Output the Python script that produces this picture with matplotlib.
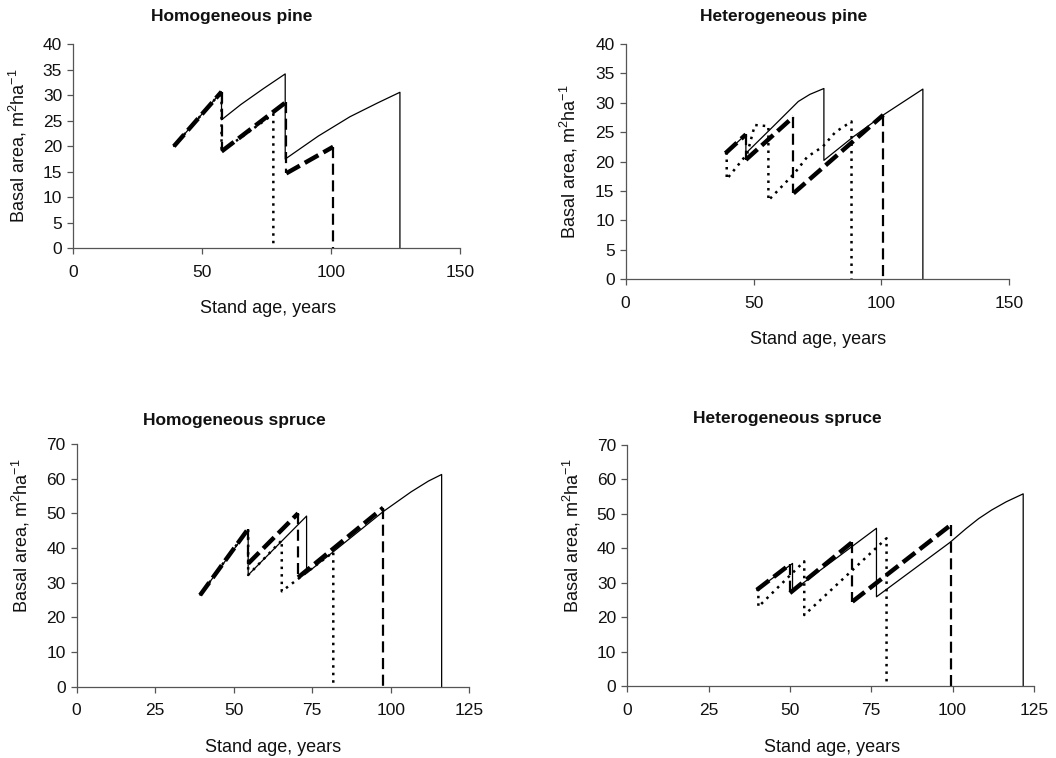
import numpy as np
import matplotlib.pyplot as plt

plt.rcParams['font.family'] = ['Liberation Sans', 'DejaVu Sans']
plt.rcParams['mathtext.default'] = 'regular'
plt.rcParams['text.color'] = '#111111'

# Homogeneous pine
hp_solid_x = [39, 57.5, 57.5, 65, 73.7, 82.2, 82.2, 95, 107.3, 118, 126.7, 126.7]
hp_solid_y = [20, 30.7, 25.2, 28.2, 31.3, 34.2, 17.5, 22, 25.8, 28.5, 30.6, 0]
hp_dash_x = [39, 57.5, 57.5, 82.6, 82.6, 100.8, 100.8]
hp_dash_y = [20, 30.7, 19, 28.7, 14.7, 19.9, 0]
hp_dot_x = [39, 57.5, 57.5, 77.6, 77.6]
hp_dot_y = [20, 30.7, 19, 26.3, 0]

# Heterogeneous pine
tp_solid_x = [39, 47, 47, 58, 67.5, 72, 77.5, 77.5, 89, 100.7, 116.2, 116.2]
tp_solid_y = [21.4, 24.6, 21.4, 26.1, 30.2, 31.4, 32.4, 20.2, 24.2, 27.9, 32.3, 0]
tp_dash_x = [39, 47, 47, 65.6, 65.6, 100.7, 100.7]
tp_dash_y = [21.4, 24.6, 20.3, 27.6, 14.6, 27.9, 0]
tp_dot_x = [39, 39.5, 39.5, 47.5, 50.5, 55.8, 55.8, 66, 71, 77, 82, 88.3, 88.3]
tp_dot_y = [21.4, 21.4, 17, 21.3, 26.2, 26, 13.4, 18, 20.8, 22.5, 25, 26.8, 0]

# Homogeneous spruce
hs_solid_x = [39.3, 54.6, 54.6, 73.2, 73.2, 97.6, 106.5, 112, 116.2, 116.2]
hs_solid_y = [26.4, 45.2, 32.2, 49.2, 32.7, 50.5, 56.2, 59.3, 61.2, 0]
hs_dash_x = [39.3, 54.6, 54.6, 70.5, 70.5, 97.6, 97.6]
hs_dash_y = [26.4, 45.5, 35.5, 50, 31.5, 51.6, 0]
hs_dot_x = [39.3, 54.6, 54.6, 65.3, 65.3, 81.7, 81.7]
hs_dot_y = [26.4, 45.5, 32.2, 42.2, 27.5, 38.8, 0]

# Heterogeneous spruce
ts_solid_x = [39.8, 50.8, 50.8, 76.6, 76.6, 99.2, 104, 108, 112, 116.5, 121.7, 121.7]
ts_solid_y = [27.9, 35.6, 27.6, 45.8, 25.9, 41.7, 45.6, 48.6, 51.1, 53.5, 55.8, 0]
ts_dash_x = [39.8, 50, 50, 69.2, 69.2, 99.5, 99.5]
ts_dash_y = [27.9, 35.3, 27, 41.8, 24.5, 46.8, 0]
ts_dot_x = [39.8, 40.3, 40.3, 54.4, 54.4, 79.7, 79.7]
ts_dot_y = [27.9, 27.9, 23, 36.2, 20.6, 42.9, 0]

ylab = 'Basal area, m$^{2}$ha$^{-1}$'
xlab = 'Stand age, years'


def plot_run(ax, xs, ys, vertical):
    if vertical:
        ax.plot(xs, ys, color='k', lw=1.6, ls=(0, (5, 2.5)), clip_on=False)
    else:
        ax.plot(xs, ys, color='k', lw=3.2, ls=(0, (3.5, 1.3)), clip_on=False)


def draw_dashed(ax, x, y):
    # heavy dashes on the growth parts, lighter ones on the thinning drops
    idx = [0]
    kind = x[1] == x[0]
    for i in range(1, len(x)):
        v = x[i] == x[i - 1]
        if v != kind:
            plot_run(ax, [x[j] for j in idx], [y[j] for j in idx], kind)
            idx = [i - 1]
            kind = v
        idx.append(i)
    plot_run(ax, [x[j] for j in idx], [y[j] for j in idx], kind)


def panel(rect, sx, sy, dx, dy, ox, oy, xmax, xstep, ymax, ystep):
    ax = fig.add_axes(rect)
    ax.plot(sx, sy, color='k', lw=0.9, clip_on=False)
    ax.plot(ox, oy, color='k', lw=1.8, ls=(0, (1, 2)), clip_on=False)
    draw_dashed(ax, dx, dy)
    ax.set_xlim(0, xmax)
    ax.set_ylim(0, ymax)
    ax.set_xticks(np.arange(0, xmax + 1, xstep))
    ax.set_yticks(np.arange(0, ymax + 1, ystep))
    for s in ['top', 'right']:
        ax.spines[s].set_visible(False)
    for s in ['left', 'bottom']:
        ax.spines[s].set_color('#555555')
        ax.spines[s].set_linewidth(0.9)
    ax.tick_params(axis='x', direction='out', length=4, width=0.9, color='#555555',
                   labelsize=12.5, pad=8, labelcolor='#111111')
    ax.tick_params(axis='y', direction='out', length=4, width=0.9, color='#555555',
                   labelsize=12.5, pad=4, labelcolor='#111111')
    return ax


fig = plt.figure(figsize=(10.56, 7.58), dpi=100)

panel([0.0694, 0.6724, 0.3662, 0.2691], hp_solid_x, hp_solid_y, hp_dash_x, hp_dash_y,
      hp_dot_x, hp_dot_y, 150, 50, 40, 5)
panel([0.5925, 0.6315, 0.3633, 0.3108], tp_solid_x, tp_solid_y, tp_dash_x, tp_dash_y,
      tp_dot_x, tp_dot_y, 150, 50, 40, 5)
panel([0.0726, 0.0941, 0.3718, 0.3202], hs_solid_x, hs_solid_y, hs_dash_x, hs_dash_y,
      hs_dot_x, hs_dot_y, 125, 25, 70, 10)
panel([0.5940, 0.0950, 0.3851, 0.3180], ts_solid_x, ts_solid_y, ts_dash_x, ts_dash_y,
      ts_dot_x, ts_dot_y, 125, 25, 70, 10)

H = 758.0
W = 1056.0
titles = [('Homogeneous pine', 232, 16), ('Heterogeneous pine', 784, 17),
          ('Homogeneous spruce', 234, 420), ('Heterogeneous spruce', 787, 419)]
for t, x, y in titles:
    fig.text(x / W, 1 - y / H, t, ha='center', va='center', fontsize=12.5, fontweight='bold')

xlabels = [(268, 309), (818, 340), (273, 747), (832, 747)]
for x, y in xlabels:
    fig.text(x / W, 1 - y / H, xlab, ha='center', va='center', fontsize=13)

ylabels = [(18, 146), (569, 162), (21, 536), (572, 536)]
for x, y in ylabels:
    fig.text(x / W, 1 - y / H, ylab, ha='center', va='center', rotation=90, fontsize=13)

fig.savefig('out.png', dpi=100)
